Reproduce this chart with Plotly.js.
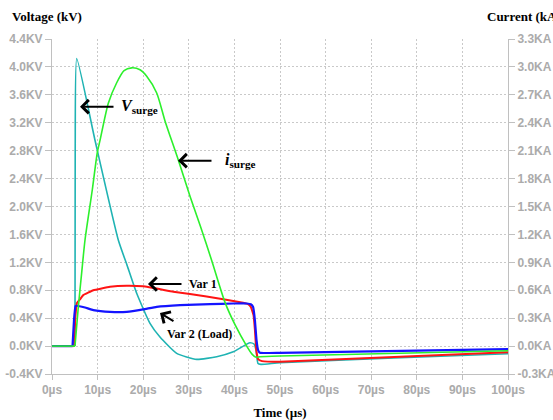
<!DOCTYPE html>
<html>
<head>
<meta charset="utf-8">
<script src="https://cdn.plot.ly/plotly-3.0.1.min.js"></script>
<style>
html,body{margin:0;padding:0;background:#fff;}
#chart{width:553px;height:420px;}
</style>
</head>
<body>
<div id="chart"></div>
<script>
// ---- data (time in µs, voltage in kV, current in kA) ----
const tVsurge = [0, 5.04, 5.09, 5.42, 9.43, 14.54, 16.45, 18.57, 21.49, 23.68, 27.35, 31.73, 36.12, 39.76, 43.42, 44.3, 44.74, 45.18, 45.83, 50, 75, 100];
const vSurge  = [0, 0, 2.81, 4.12, 2.95, 1.52, 1.16, 0.756, 0.325, 0.129, -0.105, -0.19, -0.153, -0.082, 0.047, 0.03, -0.057, -0.25, -0.262, -0.237, -0.17, -0.11];

const tIsurge = [0, 5.04, 5.77, 6.51, 7.24, 8.84, 9.93, 10.53, 12.35, 14.19, 15.8, 17.48, 19.3, 20.77, 22.96, 24.78, 27.7, 30.26, 32.6, 35.02, 37.94, 40.13, 42.7, 43.86, 44.74, 45.61, 50, 100];
const iSurge  = [0, 0, 0.42, 0.79, 1.14, 1.68, 2.08, 2.21, 2.61, 2.83, 2.96, 2.99, 2.97, 2.90, 2.72, 2.42, 2.0, 1.61, 1.28, 0.92, 0.47, 0.23, 0, -0.086, -0.12, -0.115, -0.107, -0.05];

const tVar1 = [0, 4.82, 5.15, 5.48, 6.14, 6.86, 9.06, 12.72, 16.38, 20.0, 26.6, 33.9, 41.9, 43.0, 43.6, 44.2, 44.5, 44.8, 45.2, 46.05, 50, 100];
const vVar1 = [0, 0, 0.44, 0.62, 0.67, 0.73, 0.80, 0.85, 0.865, 0.856, 0.78, 0.71, 0.62, 0.60, 0.56, 0.44, 0.23, -0.057, -0.186, -0.215, -0.225, -0.09];

const tVar2 = [0, 4.5, 4.82, 5.15, 5.48, 7.24, 9.06, 12.72, 16.38, 20.0, 22.96, 28.07, 34.65, 39.7, 42.7, 43.6, 44.1, 44.5, 44.85, 45.2, 45.6, 50, 100];
const vVar2 = [0, 0, 0.37, 0.573, 0.578, 0.552, 0.516, 0.49, 0.49, 0.525, 0.563, 0.588, 0.60, 0.61, 0.61, 0.60, 0.56, 0.37, 0.086, -0.057, -0.096, -0.096, -0.043];

const xTickVals = [0, 10, 20, 30, 40, 50, 60, 70, 80, 90, 100];
const xTickText = ["0µs", "10µs", "20µs", "30µs", "40µs", "50µs", "60µs", "70µs", "80µs", "90µs", "100µs"];
const yTickVals = [-0.4, 0, 0.4, 0.8, 1.2, 1.6, 2.0, 2.4, 2.8, 3.2, 3.6, 4.0, 4.4];
const yTickText = ["-0.4KV", "0.0KV", "0.4KV", "0.8KV", "1.2KV", "1.6KV", "2.0KV", "2.4KV", "2.8KV", "3.2KV", "3.6KV", "4.0KV", "4.4KV"];
const y2TickVals = [-0.3, 0, 0.3, 0.6, 0.9, 1.2, 1.5, 1.8, 2.1, 2.4, 2.7, 3.0, 3.3];
const y2TickText = ["-0.3KA", "0.0KA", "0.3KA", "0.6KA", "0.9KA", "1.2KA", "1.5KA", "1.8KA", "2.1KA", "2.4KA", "2.7KA", "3.0KA", "3.3KA"];

// ---- styling ----
const tickFont = {family: "Liberation Sans, Arial, sans-serif", size: 12, color: "#ababab", weight: "bold"};
const serif = "Liberation Serif, Times New Roman, serif";
const gridCol = "#c9c9c9";
const axCol = "#c0c0c0";

// each series: flat pre-surge part drawn straight, the rest drawn smooth
function series(t, v, color, width, smooth, yaxis) {
  return [
    {x: t.slice(0, 2), y: v.slice(0, 2), mode: "lines", line: {color: color, width: width}, yaxis: yaxis, hoverinfo: "skip"},
    {x: t.slice(1), y: v.slice(1), mode: "lines", line: {color: color, width: width, shape: "spline", smoothing: smooth}, yaxis: yaxis}
  ];
}

const traces = [].concat(
  series(tVsurge, vSurge, "#1fb3b3", 1.6, 0.5, "y"),
  series(tIsurge, iSurge, "#2cf02c", 1.6, 0.7, "y2"),
  series(tVar1, vVar1, "#ff1414", 2, 0.3, "y"),
  series(tVar2, vVar2, "#1414ff", 2.2, 0.3, "y")
);

function arrow(x, y, ax, ay) {
  return {x: x, y: y, xref: "x", yref: "y", ax: ax, ay: ay, text: "", showarrow: true,
          arrowhead: 4, arrowsize: 1.3, arrowwidth: 2, arrowcolor: "#000"};
}
function label(x, y, text, size, xanchor) {
  return {x: x, y: y, xref: "x", yref: "y", text: text, showarrow: false, xanchor: xanchor, yanchor: "middle",
          font: {family: serif, size: size, color: "#000"}};
}

const layout = {
  width: 553, height: 420,
  margin: {l: 52, r: 45, t: 39, b: 46},
  paper_bgcolor: "#fff", plot_bgcolor: "#fff",
  showlegend: false,
  xaxis: {
    range: [0, 100], tickvals: xTickVals, ticktext: xTickText, tickfont: tickFont,
    showgrid: true, gridcolor: gridCol, griddash: "2px,2px", gridwidth: 1,
    zeroline: false, showline: true, linecolor: axCol, linewidth: 1,
    ticks: "outside", ticklen: 5, tickcolor: axCol,
    title: {text: "<b>Time (µs)</b>", font: {family: serif, size: 13, color: "#000"}, standoff: 14}
  },
  yaxis: {
    range: [-0.4, 4.4], tickvals: yTickVals, ticktext: yTickText, tickfont: tickFont,
    showgrid: true, gridcolor: gridCol, griddash: "2px,2px", gridwidth: 1,
    zeroline: false, showline: true, linecolor: axCol, linewidth: 1,
    ticks: "outside", ticklen: 6, tickcolor: axCol
  },
  yaxis2: {
    range: [-0.3, 3.3], tickvals: y2TickVals, ticktext: y2TickText, tickfont: tickFont,
    overlaying: "y", side: "right", showgrid: false,
    zeroline: false, showline: true, linecolor: axCol, linewidth: 1,
    ticks: "outside", ticklen: 6, tickcolor: axCol
  },
  annotations: [
    {xref: "paper", yref: "paper", x: -0.092, y: 1.0657, xanchor: "left", yanchor: "middle", showarrow: false,
     text: "<b>Voltage (kV)</b>", font: {family: serif, size: 13, color: "#000"}},
    {xref: "paper", yref: "paper", x: 0.9496, y: 1.0657, xanchor: "left", yanchor: "middle", showarrow: false,
     text: "<b>Current (kA)</b>", font: {family: serif, size: 13, color: "#000"}},
    {xref: "paper", yref: "paper", x: 0.475, y: 1.145, xanchor: "center", yanchor: "middle", showarrow: false,
     text: "<b>(c)</b>", font: {family: serif, size: 18, color: "#000"}},
    arrow(6.14, 3.431, 35, 0),
    arrow(27.63, 2.657, 35, 0),
    arrow(21.05, 0.889, 35, 0),
    arrow(23.68, 0.473, 15, 9),
    label(14.69, 3.43, "<b><i>V</i><sub>surge</sub></b>", 16, "left"),
    label(37.43, 2.657, "<b><i>i</i><sub>surge</sub></b>", 16, "left"),
    label(29.54, 0.889, "<b>Var 1</b>", 12, "left"),
    label(32.24, 0.172, "<b>Var 2 (Load)</b>", 12, "center")
  ]
};

Plotly.newPlot("chart", traces, layout, {staticPlot: true, displayModeBar: false});
</script>
</body>
</html>
